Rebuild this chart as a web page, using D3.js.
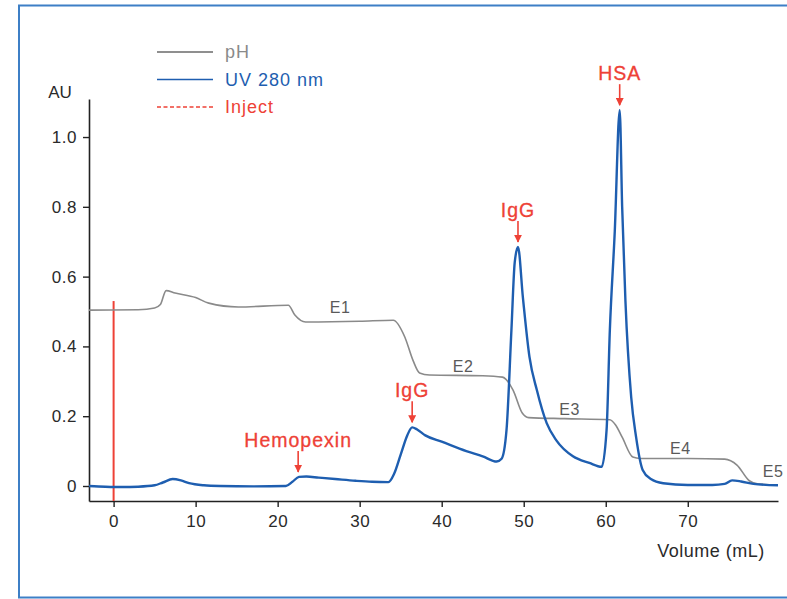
<!DOCTYPE html>
<html>
<head>
<meta charset="utf-8">
<script src="https://cdn.jsdelivr.net/npm/d3@7"></script>
<style>
  body { margin: 0; background: #fff; }
  svg { display: block; font-family: "Liberation Sans", Arial, sans-serif; }
</style>
</head>
<body>
<svg width="787" height="599"></svg>
<script>
// UV 280 nm trace (volume in mL, absorbance in AU)
const uvVolume = [-3, -1, 1, 3, 5, 6, 7.2, 8.2, 9.2, 11, 13, 17, 21, 21.8, 22.6, 23.5, 25, 27, 29.5, 31.5, 33.5, 34.2, 35, 35.8, 36.4, 37, 38, 40, 43, 45, 46.7, 47.3, 47.9, 48.5, 48.9, 49.3, 49.9, 50.7, 51.6, 52.8, 54, 56, 58, 59.5, 60.1, 60.5, 61.1, 61.7, 62.0, 62.4, 63.1, 63.7, 64.5, 65.5, 67, 70, 73, 74.5, 75.4, 76.5, 78, 81];
const uvAU = [0, -0.002, -0.003, -0.002, 0.002, 0.01, 0.02, 0.016, 0.008, 0.002, 0, -0.001, 0, 0.012, 0.026, 0.027, 0.024, 0.02, 0.015, 0.012, 0.011, 0.035, 0.09, 0.145, 0.168, 0.162, 0.145, 0.127, 0.1, 0.085, 0.07, 0.078, 0.16, 0.447, 0.64, 0.685, 0.54, 0.37, 0.275, 0.18, 0.13, 0.085, 0.066, 0.055, 0.16, 0.447, 0.73, 1.077, 0.8, 0.53, 0.255, 0.14, 0.046, 0.02, 0.008, 0.003, 0.003, 0.006, 0.016, 0.013, 0.006, 0.002];

// pH trace, drawn on the AU scale as in the original
const phVolume = [-3, 3, 5, 5.7, 6.4, 7.5, 10, 11.6, 15.2, 21.3, 22.1, 23.4, 30, 34.1, 35.5, 36.5, 37.3, 38.5, 45, 47.4, 48.7, 49.8, 50.6, 55, 60.5, 61.2, 62, 63.3, 64.2, 70, 74.5, 76, 77.5, 78.5, 81];
const phAU = [0.504, 0.505, 0.51, 0.52, 0.56, 0.553, 0.54, 0.524, 0.513, 0.518, 0.49, 0.47, 0.472, 0.475, 0.427, 0.36, 0.324, 0.318, 0.316, 0.312, 0.275, 0.21, 0.196, 0.193, 0.19, 0.175, 0.14, 0.083, 0.079, 0.079, 0.077, 0.06, 0.015, 0.006, 0.003];

const injectVolume = 0;
const injectTop = 0.53;

const peakLabels = ["Hemopexin", "IgG", "IgG", "HSA"];
const peakVolume = [22.5, 36.4, 49.3, 61.7];
const peakAU = [0.026, 0.168, 0.685, 1.077];

const stepLabels = ["E1", "E2", "E3", "E4", "E5"];
const stepVolume = [27.6, 42.6, 55.6, 69.1, 80.4];
const stepAU = [0.496, 0.327, 0.203, 0.092, 0.026];

const xTicks = [0, 10, 20, 30, 40, 50, 60, 70];
const yTicks = [0, 0.2, 0.4, 0.6, 0.8, 1.0];

const legendLabels = ["pH", "UV 280 nm", "Inject"];

const phColor = "#8a8a8a";
const uvColor = "#1e5eb0";
const redColor = "#ee4136";

main();

function main() {
  const canvas = d3.select("svg");

  const paddingLeft = 89;
  const paddingRight = 9;
  const paddingTop = 99;
  const plotBottom = 501;
  const canvasWidth = 787;

  // frame
  canvas
    .append("rect")
    .attr("x", 19)
    .attr("y", 5.5)
    .attr("width", 800)
    .attr("height", 592)
    .attr("fill", "none")
    .attr("stroke", "#3d7fc6")
    .attr("stroke-width", 2);

  const xScale = d3
    .scaleLinear()
    .domain([-3, 81])
    .range([paddingLeft, canvasWidth - paddingRight]);

  const yScale = d3
    .scaleLinear()
    .domain([-0.043, 1.109])
    .range([plotBottom, paddingTop]);

  const xAxis = d3
    .axisBottom(xScale)
    .tickValues(xTicks)
    .tickSize(6)
    .tickSizeOuter(0)
    .tickPadding(8)
    .tickFormat(d3.format("d"));
  const yAxis = d3
    .axisLeft(yScale)
    .tickValues(yTicks)
    .tickSize(6)
    .tickSizeOuter(0)
    .tickPadding(6)
    .tickFormat((d) => (d === 0 ? "0" : d3.format(".1f")(d)));

  const gx = canvas
    .append("g")
    .attr("transform", `translate(0, ${plotBottom})`)
    .call(xAxis);
  const gy = canvas
    .append("g")
    .attr("transform", `translate(${paddingLeft}, 0)`)
    .call(yAxis);

  [gx, gy].forEach((g) => {
    g.select(".domain").attr("stroke", "#222").attr("stroke-width", 1.6);
    g.selectAll(".tick line").attr("stroke", "#222").attr("stroke-width", 1.4);
    g.selectAll(".tick text")
      .attr("fill", "#2a2a2a")
      .style("font-size", "17px")
      .style("letter-spacing", "0.5px")
      .style("font-family", "'Liberation Sans', Arial, sans-serif");
  });

  canvas
    .append("text")
    .text("AU")
    .attr("x", 60)
    .attr("y", 98)
    .attr("text-anchor", "middle")
    .attr("fill", "#2a2a2a")
    .style("font-size", "17px");

  canvas
    .append("text")
    .text("Volume (mL)")
    .attr("x", 711)
    .attr("y", 557)
    .attr("text-anchor", "middle")
    .attr("fill", "#2a2a2a")
    .style("font-size", "18px")
    .style("letter-spacing", "0.5px");

  // inject line
  canvas
    .append("line")
    .attr("x1", xScale(injectVolume))
    .attr("x2", xScale(injectVolume))
    .attr("y1", yScale(injectTop))
    .attr("y2", plotBottom)
    .attr("stroke", redColor)
    .attr("stroke-width", 2);

  const line = d3
    .line()
    .x((d) => xScale(d[0]))
    .y((d) => yScale(d[1]))
    .curve(d3.curveMonotoneX);

  canvas
    .append("path")
    .datum(d3.zip(phVolume, phAU))
    .attr("d", line)
    .attr("fill", "none")
    .attr("stroke", phColor)
    .attr("stroke-width", 1.6);

  canvas
    .append("path")
    .datum(d3.zip(uvVolume, uvAU))
    .attr("d", line)
    .attr("fill", "none")
    .attr("stroke", uvColor)
    .attr("stroke-width", 2.4)
    .attr("stroke-linejoin", "round");

  // step labels
  canvas
    .append("g")
    .selectAll("text")
    .data(stepLabels)
    .join("text")
    .text((d) => d)
    .attr("x", (d, i) => xScale(stepVolume[i]))
    .attr("y", (d, i) => yScale(stepAU[i]))
    .attr("text-anchor", "middle")
    .attr("fill", "#5a5a5a")
    .style("font-size", "16px")
    .style("letter-spacing", "0.5px");

  // peak annotations
  canvas
    .append("defs")
    .append("marker")
    .attr("id", "arrow")
    .attr("viewBox", "0 0 10 10")
    .attr("refX", 9)
    .attr("refY", 5)
    .attr("markerWidth", 5)
    .attr("markerHeight", 5)
    .attr("orient", "auto")
    .append("path")
    .attr("d", "M0,0 L10,5 L0,10 z")
    .attr("fill", redColor);

  const peaks = canvas
    .append("g")
    .selectAll("g")
    .data(peakLabels)
    .join("g")
    .attr(
      "transform",
      (d, i) => `translate(${xScale(peakVolume[i])}, ${yScale(peakAU[i])})`
    );

  peaks
    .append("line")
    .attr("x1", 0)
    .attr("x2", 0)
    .attr("y1", -26)
    .attr("y2", -5)
    .attr("stroke", redColor)
    .attr("stroke-width", 1.6)
    .attr("marker-end", "url(#arrow)");

  peaks
    .append("text")
    .text((d) => d)
    .attr("x", 0)
    .attr("y", -30)
    .attr("text-anchor", "middle")
    .attr("fill", redColor)
    .attr("stroke", redColor)
    .attr("stroke-width", 0.3)
    .style("font-size", "19.5px")
    .style("letter-spacing", "1px");

  // legend
  const legendColors = ["#6a6a6a", uvColor, redColor];
  const legend = canvas
    .append("g")
    .selectAll("g")
    .data(legendLabels)
    .join("g")
    .attr("transform", (d, i) => `translate(157, ${52 + i * 27.5})`);

  legend
    .append("line")
    .attr("x1", 0)
    .attr("x2", 56)
    .attr("stroke", (d, i) => legendColors[i])
    .attr("stroke-width", 1.5)
    .attr("stroke-dasharray", (d, i) => (i === 2 ? "4,2.5" : null));

  legend
    .append("text")
    .text((d) => d)
    .attr("x", 68)
    .attr("y", 6)
    .attr("fill", (d, i) => (i === 0 ? phColor : legendColors[i]))
    .style("font-size", "18px")
    .style("letter-spacing", "1px");
}
</script>
</body>
</html>
